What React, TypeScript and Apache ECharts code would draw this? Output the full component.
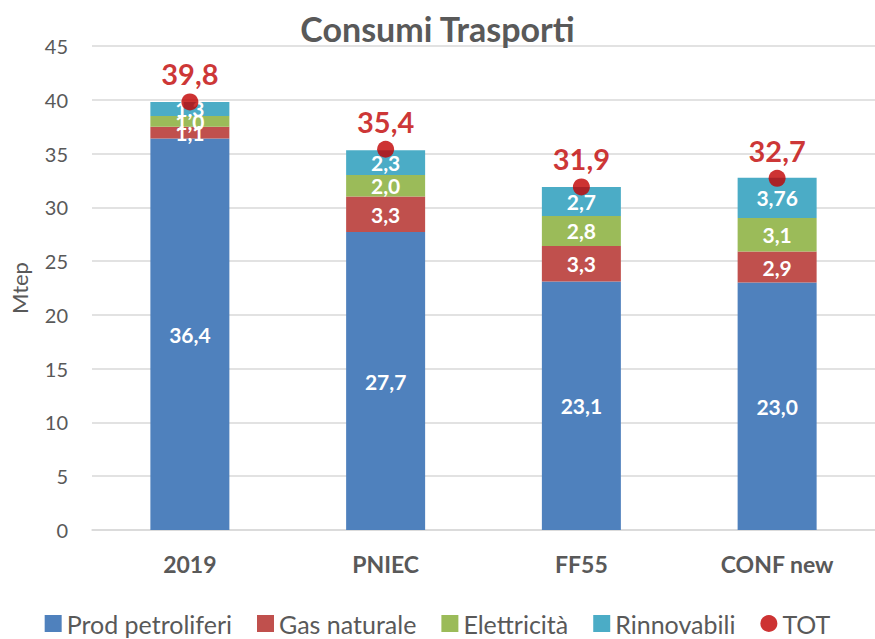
import React, { useEffect, useRef } from "react";
import * as echarts from "echarts";

const categories = ["2019", "PNIEC", "FF55", "CONF new"];
const prodPetroliferi = [36.4, 27.7, 23.1, 23.0];
const gasNaturale = [1.1, 3.3, 3.3, 2.9];
const elettricita = [1.0, 2.0, 2.8, 3.1];
const rinnovabili = [1.3, 2.3, 2.7, 3.76];
const tot = [39.8, 35.4, 31.9, 32.7];
const yTicks = { min: 0, max: 45, interval: 5 };

const FONT = "Lato, 'Open Sans', sans-serif";
const GREY = "#595959";

const fmt = (v: number) =>
  (Math.abs(v * 10 - Math.round(v * 10)) < 1e-9 ? v.toFixed(1) : v.toFixed(2)).replace(".", ",");

export default function App() {
  const ref = useRef<HTMLDivElement>(null);
  useEffect(() => {
    if (!ref.current) return;
    const chart = echarts.init(ref.current, undefined, { renderer: "svg" });
    const barLabel = {
      show: true,
      position: "inside",
      color: "#fff",
      fontWeight: "bold",
      fontSize: 21,
      fontFamily: FONT,
      formatter: (p: any) => fmt(p.value),
    };
    const bar = (name: string, data: number[], color: string) => ({
      name,
      type: "bar",
      stack: "s",
      data,
      barWidth: 79,
      itemStyle: { color },
      label: barLabel,
    });
    chart.setOption({
      animation: false,
      textStyle: { fontFamily: FONT },
      title: {
        text: "Consumi Trasporti",
        left: "center",
        top: 6,
        textStyle: { fontSize: 34, fontWeight: "bold", color: GREY, fontFamily: FONT },
      },
      grid: { left: 92, right: -7, top: 46, bottom: 109, containLabel: false },
      legend: {
        bottom: -2,
        left: "center",
        itemWidth: 17,
        itemHeight: 17,
        itemGap: 25,
        textStyle: { fontSize: 25, color: GREY, fontFamily: FONT },
        data: [
          { name: "Prod petroliferi", icon: "rect" },
          { name: "Gas naturale", icon: "rect" },
          { name: "Elettricità", icon: "rect" },
          { name: "Rinnovabili", icon: "rect" },
          { name: "TOT", icon: "circle" },
        ],
      },
      xAxis: {
        type: "category",
        data: categories,
        axisLine: { lineStyle: { color: "#D9D9D9", width: 1.5 } },
        axisTick: { show: false },
        axisLabel: { fontSize: 23, fontWeight: "bold", color: GREY, margin: 22, fontFamily: FONT },
      },
      yAxis: {
        type: "value",
        min: yTicks.min,
        max: yTicks.max,
        interval: yTicks.interval,
        name: "Mtep",
        nameLocation: "middle",
        nameGap: 62,
        nameTextStyle: { fontSize: 22, color: GREY, fontFamily: FONT },
        axisLabel: { fontSize: 20, color: GREY, margin: 24, fontFamily: FONT },
        splitLine: { lineStyle: { color: "#D9D9D9", width: 1.5 } },
      },
      series: [
        bar("Prod petroliferi", prodPetroliferi, "#4F81BD"),
        bar("Gas naturale", gasNaturale, "#C0504D"),
        bar("Elettricità", elettricita, "#9BBB59"),
        bar("Rinnovabili", rinnovabili, "#4BACC6"),
        {
          name: "TOT",
          type: "scatter",
          data: tot,
          symbol: "circle",
          symbolSize: 17,
          z: 5,
          itemStyle: { color: "#C00000" },
          label: {
            show: true,
            position: "top",
            distance: 5,
            color: "#C00000",
            fontWeight: "bold",
            fontSize: 29,
            fontFamily: FONT,
            formatter: (p: any) => fmt(p.value),
          },
        },
      ],
    });
    return () => chart.dispose();
  }, []);
  return (
    <div
      ref={ref}
      style={{ position: "fixed", left: 0, top: 0, width: 875, height: 639, background: "#fff" }}
    />
  );
}
